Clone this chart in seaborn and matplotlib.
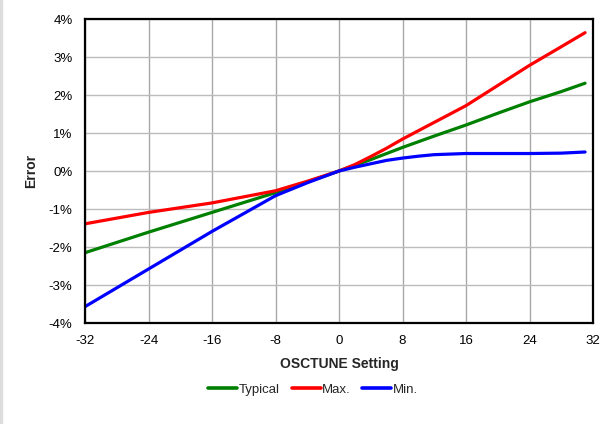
import matplotlib
matplotlib.use("Agg")
import matplotlib.pyplot as plt
import seaborn as sns
import pandas as pd
from matplotlib.ticker import FuncFormatter

osctune = [-32, -24, -16, -8, -4, 0, 2, 4, 6, 8, 10, 12, 16, 20, 24, 28, 31]
typical = [-2.15, -1.61, -1.09, -0.57, -0.29, 0.0, 0.15, 0.30, 0.46, 0.62, 0.77, 0.92, 1.21, 1.52, 1.82, 2.09, 2.31]
maximum = [-1.39, -1.09, -0.84, -0.52, -0.27, 0.0, 0.17, 0.38, 0.60, 0.84, 1.06, 1.28, 1.72, 2.25, 2.78, 3.27, 3.64]
minimum = [-3.57, -2.58, -1.59, -0.65, -0.31, 0.0, 0.10, 0.19, 0.28, 0.34, 0.39, 0.43, 0.46, 0.46, 0.46, 0.47, 0.50]
series_names = ["Typical", "Max.", "Min."]
colors = ["#008000", "#ff0000", "#0000ff"]

rows = []
for name, vals in zip(series_names, [typical, maximum, minimum]):
    for x, v in zip(osctune, vals):
        rows.append({"OSCTUNE Setting": x, "Error": v, "Series": name})
df = pd.DataFrame(rows)

sns.set_style("white")
plt.rcParams["font.family"] = ["Liberation Sans", "DejaVu Sans"]
plt.rcParams["axes.unicode_minus"] = False

fig = plt.figure(figsize=(6.05, 4.24), dpi=100)
ax = fig.add_axes([85/605, 101/424, 508/605, 304/424])

sns.lineplot(data=df, x="OSCTUNE Setting", y="Error", hue="Series",
             palette=dict(zip(series_names, colors)), linewidth=2.3, ax=ax,
             hue_order=series_names)

ax.set_xlim(-32, 32)
ax.set_ylim(-4, 4)
ax.set_xticks(range(-32, 33, 8))
ax.set_yticks(range(-4, 5, 1))
ax.yaxis.set_major_formatter(FuncFormatter(lambda v, p: f"{int(v)}%"))
ax.xaxis.grid(True, color="#a8a8a8", linewidth=1.0)
ax.yaxis.grid(True, color="#bcbcbc", linewidth=1.0)
ax.set_axisbelow(True)
for s in ax.spines.values():
    s.set_visible(True)
    s.set_color("black")
    s.set_linewidth(1.6)
ax.tick_params(length=0, labelsize=9.5, colors="black")
ax.tick_params(axis="x", pad=9)
ax.tick_params(axis="y", pad=9)
ax.set_xlabel("OSCTUNE Setting", fontsize=10, fontweight="bold", labelpad=7)
ax.set_ylabel("Error", fontsize=10, fontweight="bold", labelpad=7.5)

leg = ax.legend(loc="upper center", bbox_to_anchor=(0.449, -0.181), ncol=3,
                frameon=False, fontsize=9.5, handlelength=2.2, handletextpad=0.1,
                columnspacing=0.9, borderaxespad=0)
for line in leg.get_lines():
    line.set_linewidth(2.6)

fig.patches.append(plt.Rectangle((0, 0), 2/605, 1, transform=fig.transFigure,
                                 color="#dddddd", zorder=0))
fig.savefig("out.png", dpi=100)
